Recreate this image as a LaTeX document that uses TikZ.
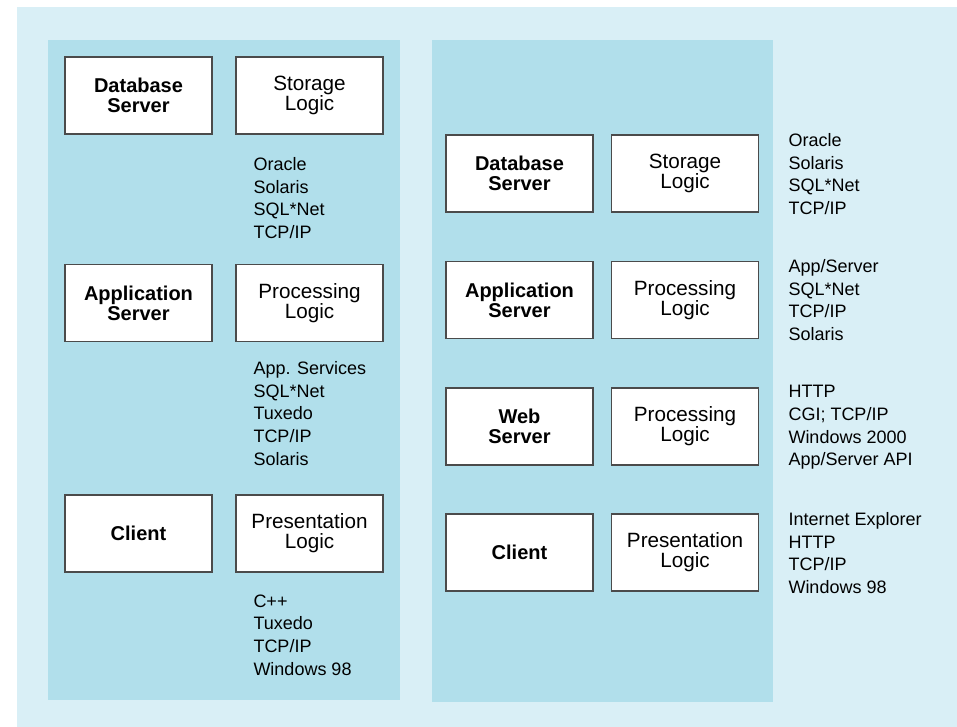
\documentclass[tikz,border=0pt]{standalone}
\usepackage{fontspec}
\setmainfont{Liberation Sans}

\definecolor{paleblue}{RGB}{217,239,246}
\definecolor{panelblue}{RGB}{177,223,235}
\definecolor{boxline}{RGB}{75,75,75}

\tikzset{every picture/.style={line width=0.75pt}}
\tikzset{
  tierbox/.style={draw=boxline, line width=1.2pt, fill=white, align=center,
    minimum width=110pt, minimum height=58pt, inner sep=0pt,
    font=\fontsize{15.5}{15}\selectfont},
  serverbox/.style={tierbox, font=\fontsize{15}{15}\selectfont\bfseries},
  techlist/.style={anchor=north west, inner sep=0pt, align=left,
    font=\fontsize{13.5}{17}\selectfont}
}

\begin{document}
\begin{tikzpicture}[x=0.75pt,y=0.75pt,yscale=-1,xscale=1]
\useasboundingbox (0,0) rectangle (957,727);

%Shape: Rectangle [background]
\fill [white] (0,0) rectangle (957,727);
\fill [paleblue] (17,7) rectangle (957,727);
%Shape: Rectangle [left panel]
\fill [panelblue] (48,40) rectangle (400,700);
%Shape: Rectangle [right panel]
\fill [panelblue] (432,40) rectangle (773,702);

% Left column: three tiers
\node [serverbox] (ldb) at (138.5,95.5) {Database\\Server};
\node [tierbox] (lstore) at (309.5,95.5) {Storage\\Logic};
\node [serverbox] (lapp) at (138.5,303) {Application\\Server};
\node [tierbox] (lproc) at (309.5,303) {Processing\\Logic};
\node [serverbox] (lclient) at (138.5,533.5) {Client};
\node [tierbox] (lpres) at (309.5,533.5) {Presentation\\Logic};

% Text Node
\node [techlist] (ldbtech) at (253,157) {Oracle\\Solaris\\SQL*Net\\TCP/IP};
% Text Node
\node [techlist] (lapptech) at (253,361) {App. Services\\SQL*Net\\Tuxedo\\TCP/IP\\Solaris};
% Text Node
\node [techlist] (lclienttech) at (253,594) {C++\\Tuxedo\\TCP/IP\\Windows 98};

% Right column: four tiers
\node [serverbox] (rdb) at (519.5,173.5) {Database\\Server};
\node [tierbox] (rstore) at (685,173.5) {Storage\\Logic};
\node [serverbox] (rapp) at (519.5,300) {Application\\Server};
\node [tierbox] (rproc) at (685,300) {Processing\\Logic};
\node [serverbox] (rweb) at (519.5,426.5) {Web\\Server};
\node [tierbox] (rwebproc) at (685,426.5) {Processing\\Logic};
\node [serverbox] (rclient) at (519.5,552.5) {Client};
\node [tierbox] (rpres) at (685,552.5) {Presentation\\Logic};

% Text Node
\node [techlist] (rdbtech) at (788,133) {Oracle\\Solaris\\SQL*Net\\TCP/IP};
% Text Node
\node [techlist] (rapptech) at (788,259) {App/Server\\SQL*Net\\TCP/IP\\Solaris};
% Text Node
\node [techlist] (rwebtech) at (788,385) {HTTP\\CGI; TCP/IP\\Windows 2000\\App/Server API};
% Text Node
\node [techlist] (rclienttech) at (788,512) {Internet Explorer\\HTTP\\TCP/IP\\Windows 98};

\end{tikzpicture}
\end{document}
